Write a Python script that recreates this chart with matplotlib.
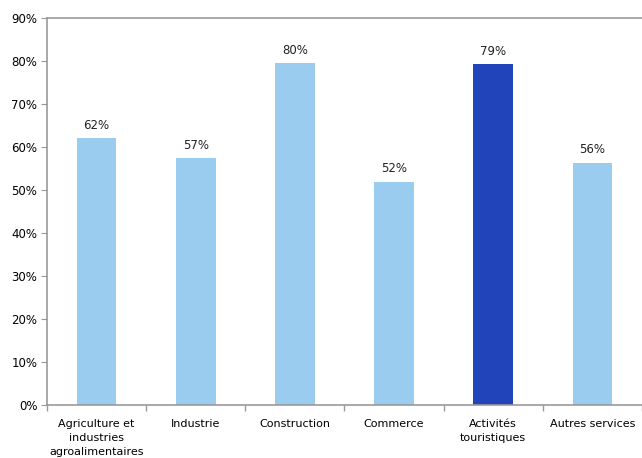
import numpy as np
import matplotlib.pyplot as plt
from matplotlib.ticker import PercentFormatter

categories = ['Agriculture et\nindustries\nagroalimentaires', 'Industrie', 'Construction',
              'Commerce', 'Activités\ntouristiques', 'Autres services']
values = [62.1, 57.4, 79.5, 51.9, 79.3, 56.3]
highlight = 'Activités\ntouristiques'

light = '#99ccee'
dark = '#2244bb'

fig = plt.figure(figsize=(6.42, 4.58), dpi=100)
ax = fig.add_axes([47/642, 1 - 405/458, 1 - 47/642, (405 - 18)/458])

x = np.arange(len(categories))
colors = [dark if c == highlight else light for c in categories]
bars = ax.bar(x, values, width=0.4, color=colors, zorder=2)

for b, v in zip(bars, values):
    ax.text(b.get_x() + b.get_width()/2, v + 1.5, f'{v:.0f}%',
            ha='center', va='bottom', fontsize=8.5, color='#222222')

ax.set_xlim(-0.5, len(categories) - 0.5)
ax.set_ylim(0, 90)
ax.set_yticks(np.arange(0, 91, 10))
ax.yaxis.set_major_formatter(PercentFormatter(decimals=0))
ax.set_xticks(x)
ax.set_xticklabels(categories, fontsize=8, linespacing=1.5)
ax.set_xticks(np.arange(-0.5, len(categories), 1), minor=True)
ax.tick_params(axis='x', which='major', length=0, pad=10)
ax.tick_params(axis='x', which='minor', length=4, color='#999999', width=1)
ax.tick_params(axis='y', length=4, color='#999999', labelsize=8.5, pad=3)

for s in ['left', 'bottom', 'top']:
    ax.spines[s].set_color('#999999')
    ax.spines[s].set_linewidth(1.2)
ax.spines['right'].set_visible(False)

fig.savefig('out.png', dpi=100)
